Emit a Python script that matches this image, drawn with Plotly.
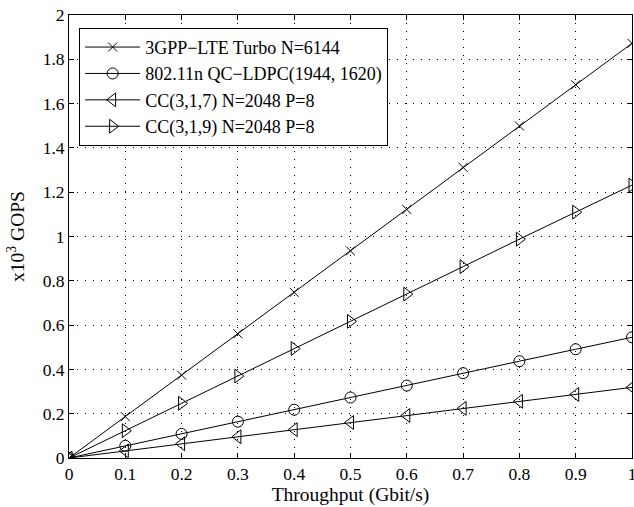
import plotly.graph_objects as go

throughput = [0, 0.1, 0.2, 0.3, 0.4, 0.5, 0.6, 0.7, 0.8, 0.9, 1.0]
turbo = [0, 0.187, 0.374, 0.561, 0.748, 0.935, 1.122, 1.312, 1.499, 1.685, 1.872]
ldpc = [0, 0.055, 0.109, 0.164, 0.218, 0.273, 0.327, 0.383, 0.437, 0.491, 0.545]
cc317 = [0, 0.032, 0.064, 0.096, 0.128, 0.160, 0.192, 0.224, 0.256, 0.287, 0.319]
cc319 = [0, 0.123, 0.247, 0.370, 0.494, 0.617, 0.740, 0.864, 0.988, 1.110, 1.232]

x_ticktext = ["0", "0.1", "0.2", "0.3", "0.4", "0.5", "0.6", "0.7", "0.8", "0.9", "1"]
y_tickvals = [0, 0.2, 0.4, 0.6, 0.8, 1, 1.2, 1.4, 1.6, 1.8, 2]
y_ticktext = ["0", "0.2", "0.4", "0.6", "0.8", "1", "1.2", "1.4", "1.6", "1.8", "2"]

names = ["3GPP\u2212LTE Turbo N=6144", "802.11n QC\u2212LDPC(1944, 1620)",
         "CC(3,1,7) N=2048 P=8", "CC(3,1,9) N=2048 P=8"]
series = [turbo, ldpc, cc317, cc319]
symbols = ["x-thin-open", "circle-open", "triangle-left-open", "triangle-right-open"]
sizes = [9, 11, 12, 12]

FONT = "Times New Roman, Liberation Serif, serif"

fig = go.Figure()
for nm, ys, sym, sz in zip(names, series, symbols, sizes):
    fig.add_trace(go.Scatter(
        x=throughput, y=ys, name=nm, mode="lines+markers",
        line=dict(color="black", width=1),
        marker=dict(symbol=sym, size=sz, color="black", line=dict(width=1, color="black")),
    ))

axis_common = dict(
    showline=True, linecolor="black", linewidth=1, mirror="ticks",
    ticks="inside", ticklen=5, tickcolor="black",
    showgrid=True, gridcolor="black", gridwidth=1, griddash="1px,7px",
    zeroline=False, tickfont=dict(family=FONT, size=17.5, color="black"),
    ticklabeloverflow="allow",
)

fig.update_xaxes(range=[0, 1], tickvals=throughput, ticktext=x_ticktext,
                 title=dict(text="Throughput (Gbit/s)", font=dict(family=FONT, size=19.5, color="black"), standoff=3),
                 automargin=False, **axis_common)
fig.update_yaxes(range=[0, 2], tickvals=y_tickvals, ticktext=y_ticktext,
                 title=dict(text="x10<sup>3</sup> GOPS", font=dict(family=FONT, size=19.5, color="black"), standoff=12),
                 automargin=False, **axis_common)

fig.update_layout(
    width=634, height=507,
    margin=dict(l=69, r=2, t=15, b=49),
    paper_bgcolor="white", plot_bgcolor="white",
    font=dict(family=FONT, color="black"),
    legend=dict(x=0.018, y=0.971, xanchor="left", yanchor="top",
                bgcolor="white", bordercolor="black", borderwidth=1,
                font=dict(family=FONT, size=18, color="black"),
                itemwidth=55, tracegroupgap=0),
    showlegend=True,
)

fig.write_html("out.html", config={"displayModeBar": False},
               post_script="document.body.style.margin='0';")
